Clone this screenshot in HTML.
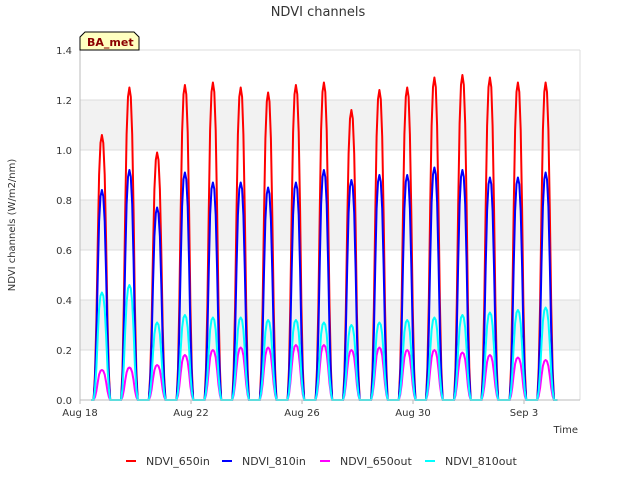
<!DOCTYPE html>
<html><head><meta charset="utf-8"><style>
body{margin:0;background:#fff;font-family:"Liberation Sans","DejaVu Sans",sans-serif;}
svg text{font-family:"DejaVu Sans","Liberation Sans",sans-serif;}
</style></head><body>
<svg id="c" width="640" height="480" xmlns="http://www.w3.org/2000/svg">
<rect width="640" height="480" fill="#fff"/>
<text x="318" y="16" text-anchor="middle" font-size="13" fill="#333">NDVI channels</text>
<g id="bands"></g><g id="grid"></g><g id="series"></g><g id="axes"></g>
<text x="15" y="225" transform="rotate(-90 15 225)" text-anchor="middle" font-size="10" fill="#333">NDVI channels (W/m2/nm)</text>
<text x="578" y="433" text-anchor="end" font-size="10" fill="#333">Time</text>
<g>
<path d="M80,50 L80,37 L85,32 L134,32 L139,37 L139,50 Z" fill="#ffffc0" stroke="#000" stroke-width="1"/>
<text x="87" y="46" font-size="11" font-weight="bold" fill="#8b0000">BA_met</text></g>
<g id="legend"></g>
</svg>
<script>
const peakDays=[0.79,1.78,2.78,3.78,4.79,5.79,6.78,7.78,8.79,9.78,10.79,11.79,12.77,13.78,14.77,15.78,16.78];
const ndvi650in=[1.06,1.25,0.99,1.26,1.27,1.25,1.23,1.26,1.27,1.16,1.24,1.25,1.29,1.30,1.29,1.27,1.27];
const ndvi810in=[0.84,0.92,0.77,0.91,0.87,0.87,0.85,0.87,0.92,0.88,0.90,0.90,0.93,0.92,0.89,0.89,0.91];
const ndvi650out=[0.12,0.13,0.14,0.18,0.20,0.21,0.21,0.22,0.22,0.20,0.21,0.20,0.20,0.19,0.18,0.17,0.16];
const ndvi810out=[0.43,0.46,0.31,0.34,0.33,0.33,0.32,0.32,0.31,0.30,0.31,0.32,0.33,0.34,0.35,0.36,0.37];
const yTicks=[0,0.2,0.4,0.6,0.8,1.0,1.2,1.4];
const xTickDays=[0,4,8,12,16];
const xTickLabels=["Aug 18","Aug 22","Aug 26","Aug 30","Sep 3"];
const profOff=[-0.3,-0.25,-0.2,-0.15,-0.1,-0.05,0,0.05,0.1,0.15,0.2,0.25,0.3];
const profVal=[0,0.1,0.3,0.6,0.85,0.97,1,0.97,0.85,0.6,0.3,0.1,0];
const X=d=>80+d*27.75, Y=v=>400-v*250;
const NS="http://www.w3.org/2000/svg";
function mk(t,a,p){const e=document.createElementNS(NS,t);for(const k in a)e.setAttribute(k,a[k]);p.appendChild(e);return e;}
const bands=document.getElementById('bands'),grid=document.getElementById('grid'),ax=document.getElementById('axes');
[[0.2,0.4],[0.6,0.8],[1.0,1.2]].forEach(b=>{const r=mk('rect',{x:80,y:Y(b[1]),width:500,height:Y(b[0])-Y(b[1]),fill:'#f2f2f2'},bands);

});
yTicks.forEach(v=>{const l=mk('line',{x1:80,x2:580,y1:Y(v),y2:Y(v),stroke:'#dcdcdc'},grid);


const t=mk('text',{x:72,y:Y(v)+4,'text-anchor':'end','font-size':10,fill:'#333'},ax);t.textContent=v.toFixed(1);

});
mk('line',{x1:580,x2:580,y1:50,y2:400,stroke:'#dcdcdc'},grid);
mk('line',{x1:80,x2:80,y1:50,y2:400,stroke:'#bbb'},ax);
mk('line',{x1:80,x2:580,y1:400,y2:400,stroke:'#bbb'},ax);
xTickDays.forEach((d,i)=>{mk('line',{x1:X(d),x2:X(d),y1:400,y2:404,stroke:'#bbb'},ax);
const t=mk('text',{x:X(d),y:416,'text-anchor':'middle','font-size':10,fill:'#333'},ax);t.textContent=xTickLabels[i];

});
const ser=document.getElementById('series');
const defs=[['NDVI_650in',ndvi650in,'#ff0000'],['NDVI_810in',ndvi810in,'#0000ff'],['NDVI_650out',ndvi650out,'#ff00ff'],['NDVI_810out',ndvi810out,'#00ffff']];
defs.forEach(s=>{let pts=[[X(0.4),Y(0)]];
peakDays.forEach((pd,i)=>{profOff.forEach((o,j)=>pts.push([X(pd+o),Y(s[1][i]*profVal[j])]));});
pts.push([X(17.2),Y(0)]);
const p=mk('polyline',{points:pts.map(q=>q[0].toFixed(1)+','+q[1].toFixed(1)).join(' '),fill:'none',stroke:s[2],'stroke-width':2,'stroke-linejoin':'round'},ser);

});
const lg=document.getElementById('legend');const lx=[126,222,320,425];
defs.forEach((s,i)=>{const g=mk('g',{},lg);


mk('line',{x1:lx[i],x2:lx[i]+10,y1:461,y2:461,stroke:s[2],'stroke-width':2},g);
const t=mk('text',{x:lx[i]+20,y:465,'font-size':11,fill:'#333'},g);t.textContent=s[0];});
</script>
</body></html>
